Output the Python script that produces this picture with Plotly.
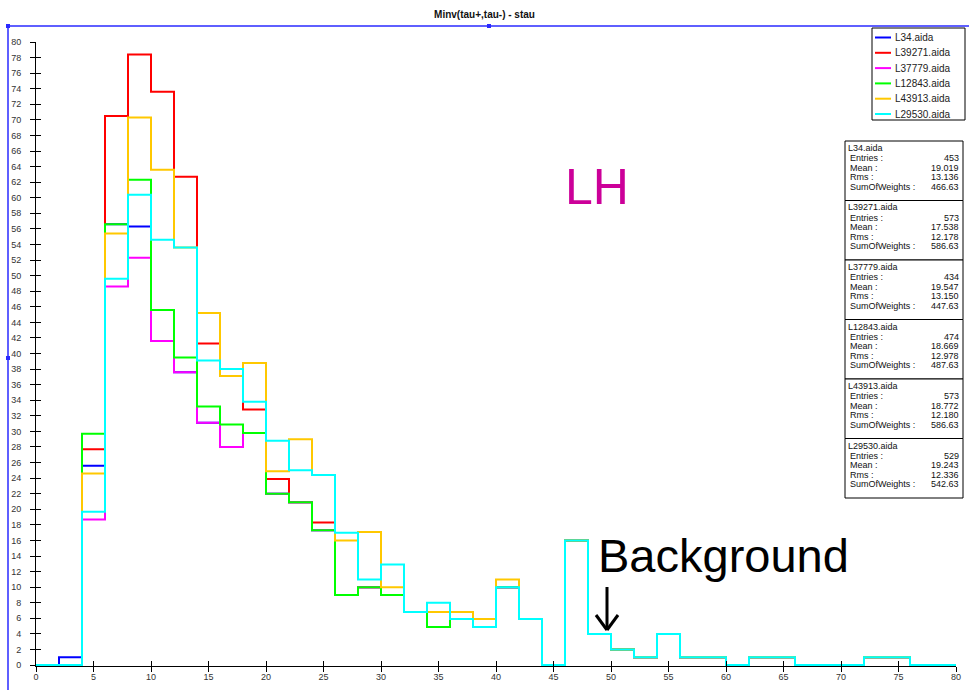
import plotly.graph_objects as go

# ---------------- data ----------------
bin_edges = list(range(0, 82, 2))  # 0..80, 40 bins of width 2

series_names = ["L34.aida", "L39271.aida", "L37779.aida", "L12843.aida", "L43913.aida", "L29530.aida"]
series_colors = ["#0000FF", "#FF0000", "#FF00FF", "#00FF00", "#FFC800", "#00FFFF"]

L34 = [0, 1, 25.6, 56.6, 56.3, 41.6, 37.6, 31.1, 28.0, 29.8, 22.0, 20.9, 17.3, 9.0, 10.0, 9.0, 6.8, 4.9, 5.9, 4.9, 10.0,
       5.9, 0, 16.0, 4, 2, 1, 4, 1, 1, 0, 1, 1, 0, 0, 0, 1, 1, 0, 0]
L39271 = [0, 0, 27.7, 70.5, 78.4, 73.6, 62.7, 41.3, 38.0, 32.8, 23.9, 20.9, 18.3, 9.0, 10.0, 9.0, 6.8, 4.9, 5.9, 4.9, 10.0,
          5.9, 0, 16.0, 4, 2, 1, 4, 1, 1, 0, 1, 1, 0, 0, 0, 1, 1, 0, 0]
L37779 = [0, 0, 18.7, 48.6, 52.3, 41.6, 37.6, 31.1, 28.0, 29.8, 22.0, 20.9, 17.3, 9.0, 10.0, 9.0, 6.8, 4.9, 5.9, 4.9, 10.0,
          5.9, 0, 16.0, 4, 2, 1, 4, 1, 1, 0, 1, 1, 0, 0, 0, 1, 1, 0, 0]
L12843 = [0, 0, 29.7, 56.6, 62.3, 45.6, 39.5, 33.2, 30.9, 29.8, 22.0, 20.9, 17.3, 9.0, 10.0, 9.0, 6.8, 4.9, 5.9, 4.9, 10.0,
          5.9, 0, 16.0, 4, 2, 1, 4, 1, 1, 0, 1, 1, 0, 0, 0, 1, 1, 0, 0]
L43913 = [0, 0, 24.6, 55.4, 70.3, 63.6, 53.6, 45.2, 37.1, 38.8, 24.9, 29.0, 24.4, 16.0, 17.1, 10.0, 6.8, 6.8, 6.8, 5.9, 11.0,
          5.9, 0, 16.0, 4, 2, 1, 4, 1, 1, 0, 1, 1, 0, 0, 0, 1, 1, 0, 0]
L29530 = [0, 0, 19.7, 49.6, 60.4, 54.6, 53.6, 39.1, 38.0, 33.8, 28.8, 25.0, 24.4, 17.0, 11.0, 12.9, 6.8, 8.0, 5.9, 4.9, 10.0,
          5.9, 0, 16.0, 4, 2, 1, 4, 1, 1, 0, 1, 1, 0, 0, 0, 1, 1, 0, 0]
series_values = [L34, L39271, L37779, L12843, L43913, L29530]

stat_entries = ["453", "573", "434", "474", "573", "529"]
stat_mean = ["19.019", "17.538", "19.547", "18.669", "18.772", "19.243"]
stat_rms = ["13.136", "12.178", "13.150", "12.978", "12.180", "12.336"]
stat_sumw = ["466.63", "586.63", "447.63", "487.63", "586.63", "542.63"]

y_ticks = list(range(0, 82, 2))
x_ticks = list(range(0, 85, 5))

title_text = "Minv(tau+,tau-) - stau"

# ---------------- layout helpers ----------------
W, H = 969, 690
L_M, R_M, T_M, B_M = 36, 13, 42, 24
PW = W - L_M - R_M
PH = H - T_M - B_M


def px2x(px):
    return (px - L_M) / PW


def py2y(py):
    return (H - B_M - py) / PH


FONT = "Liberation Sans, Arial, sans-serif"

fig = go.Figure()

for name, color, vals in zip(series_names, series_colors, series_values):
    xs = [bin_edges[0]] + bin_edges[:-1] + [bin_edges[-1]]
    ys = [0] + list(vals) + [0]
    fig.add_trace(go.Scatter(x=xs, y=ys, mode="lines", name=name, showlegend=False,
                             line=dict(color=color, width=2, shape="hv"),
                             hoverinfo="skip"))

# overlay axes to get ticks crossing the axis lines
fig.add_trace(go.Scatter(x=[], y=[], xaxis="x2", yaxis="y2", showlegend=False, hoverinfo="skip"))

fig.update_layout(
    width=W, height=H,
    margin=dict(l=L_M, r=R_M, t=T_M, b=B_M, pad=0, autoexpand=False),
    paper_bgcolor="white", plot_bgcolor="white",
    font=dict(family=FONT, color="#222"),
    title=dict(text="<b>" + title_text + "</b>", x=0.5, xanchor="center", xref="container",
               y=1 - 14 / H, yanchor="middle", yref="container",
               font=dict(size=10, family=FONT, color="#111")),
    xaxis=dict(range=[0, 80], tickvals=x_ticks, ticks="inside", ticklen=5, tickcolor="black",
               showline=True, linecolor="black", linewidth=1, showgrid=False, zeroline=False,
               automargin=False, ticklabelstandoff=2, tickfont=dict(size=9, color="#333")),
    yaxis=dict(range=[-0.12, 80], tickvals=y_ticks, ticks="outside", ticklen=5, tickcolor="black",
               showline=True, linecolor="black", linewidth=1, showgrid=False, zeroline=False,
               automargin=False, ticklabelstandoff=7, tickfont=dict(size=9, color="#333")),
    xaxis2=dict(overlaying="x", matches="x", anchor="y2", side="bottom", tickvals=x_ticks,
                ticks="outside", ticklen=5, tickcolor="black", showticklabels=False, automargin=False,
                showline=False, showgrid=False, zeroline=False),
    yaxis2=dict(overlaying="y", matches="y", anchor="x2", side="left", tickvals=y_ticks,
                ticks="inside", ticklen=5, tickcolor="black", showticklabels=False, automargin=False,
                showline=False, showgrid=False, zeroline=False),
    showlegend=False,
)

shapes = []
ann = []

# blue selection frame
blue = "#2a2aff"
shapes.append(dict(type="line", xref="paper", yref="paper", x0=px2x(8), x1=px2x(969), y0=py2y(26), y1=py2y(26),
                   line=dict(color=blue, width=1.5)))
shapes.append(dict(type="line", xref="paper", yref="paper", x0=px2x(8), x1=px2x(8), y0=py2y(26), y1=py2y(690),
                   line=dict(color=blue, width=1.5)))
for hx, hy in [(8, 26), (489, 26), (8, 358)]:
    shapes.append(dict(type="rect", xref="paper", yref="paper", x0=px2x(hx - 2), x1=px2x(hx + 2),
                       y0=py2y(hy - 2), y1=py2y(hy + 2), fillcolor=blue, line=dict(width=0)))

# legend box (drawn as a framed key)
shapes.append(dict(type="rect", xref="paper", yref="paper", x0=px2x(872), x1=px2x(965),
                   y0=py2y(120), y1=py2y(28), fillcolor="white", line=dict(color="black", width=1)))
for k, (name, color) in enumerate(zip(series_names, series_colors)):
    yy = 37.5 + 15.3 * k
    shapes.append(dict(type="line", xref="paper", yref="paper", x0=px2x(875), x1=px2x(891),
                       y0=py2y(yy), y1=py2y(yy), line=dict(color=color, width=2)))
    ann.append(dict(x=px2x(893), y=py2y(yy), xref="paper", yref="paper", text=name, showarrow=False,
                    xanchor="left", yanchor="middle", font=dict(size=10, family=FONT, color="#222")))

# stats boxes
box_top0 = 141
box_h = 59.5
for i, name in enumerate(series_names):
    t = box_top0 + i * box_h
    shapes.append(dict(type="rect", xref="paper", yref="paper", x0=px2x(845), x1=px2x(963),
                       y0=py2y(t + box_h), y1=py2y(t), fillcolor="white", line=dict(color="black", width=1)))
    ann.append(dict(x=px2x(846), y=py2y(t + 7), xref="paper", yref="paper", text=name, showarrow=False,
                    xanchor="left", yanchor="middle", font=dict(size=9, family=FONT, color="#111")))
    rows = [("Entries :", stat_entries[i]), ("Mean :", stat_mean[i]), ("Rms :", stat_rms[i]),
            ("SumOfWeights :", stat_sumw[i])]
    for j, (lab, val) in enumerate(rows):
        yy = t + 17 + j * 9.6
        ann.append(dict(x=px2x(848), y=py2y(yy), xref="paper", yref="paper", text=lab, showarrow=False,
                        xanchor="left", yanchor="middle", font=dict(size=9, family=FONT, color="#111")))
        ann.append(dict(x=px2x(961), y=py2y(yy), xref="paper", yref="paper", text=val, showarrow=False,
                        xanchor="right", yanchor="middle", font=dict(size=9, family=FONT, color="#111")))

# big labels
ann.append(dict(x=px2x(597), y=py2y(187), xref="paper", yref="paper", text="LH", showarrow=False,
                xanchor="center", yanchor="middle", font=dict(size=50, family=FONT, color="#CC0099")))
ann.append(dict(x=px2x(723), y=py2y(555), xref="paper", yref="paper", text="Background", showarrow=False,
                xanchor="center", yanchor="middle", font=dict(size=47, family=FONT, color="black")))

# downward arrow under "Background"
ax_c, ay0, ay1 = 607, 587, 630
for (xa, ya, xb, yb) in [(ax_c, ay0, ax_c, ay1), (ax_c - 11, ay1 - 15, ax_c, ay1), (ax_c + 11, ay1 - 15, ax_c, ay1)]:
    shapes.append(dict(type="line", xref="paper", yref="paper", x0=px2x(xa), x1=px2x(xb),
                       y0=py2y(ya), y1=py2y(yb), line=dict(color="black", width=3)))

fig.update_layout(shapes=shapes, annotations=ann)

fig.write_html("out.html")
